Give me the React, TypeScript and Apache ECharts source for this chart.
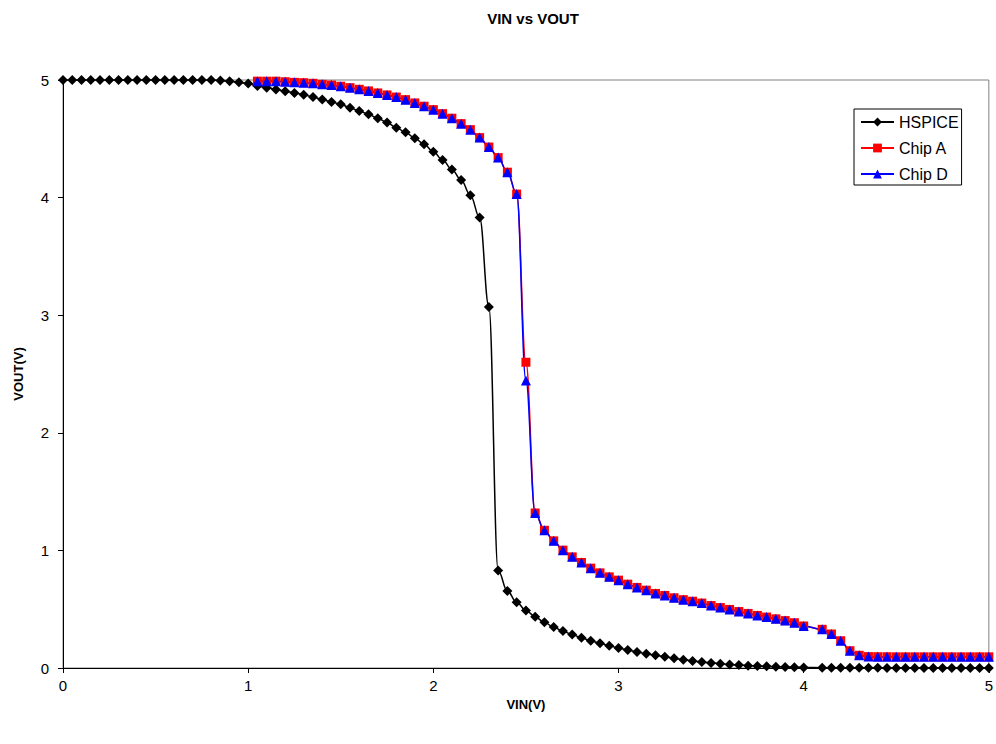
import React, { useEffect, useRef } from "react";
import * as echarts from "echarts";

// VIN sample points (x = 4.05 is absent in the source data)
const vin = [
  0, 0.05, 0.1, 0.15, 0.2, 0.25, 0.3, 0.35, 0.4, 0.45, 0.5, 0.55, 0.6, 0.65, 0.7, 0.75, 0.8,
  0.85, 0.9, 0.95, 1.0,
  1.05, 1.1, 1.15, 1.2, 1.25, 1.3, 1.35, 1.4, 1.45, 1.5, 1.55, 1.6, 1.65, 1.7, 1.75, 1.8, 1.85, 1.9, 1.95, 2.0,
  2.05, 2.1, 2.15, 2.2, 2.25, 2.3, 2.35, 2.4, 2.45, 2.5, 2.55, 2.6, 2.65, 2.7, 2.75, 2.8, 2.85, 2.9, 2.95, 3.0,
  3.05, 3.1, 3.15, 3.2, 3.25, 3.3, 3.35, 3.4, 3.45, 3.5, 3.55, 3.6, 3.65, 3.7, 3.75, 3.8, 3.85, 3.9, 3.95, 4.0,
  4.1, 4.15, 4.2, 4.25, 4.3, 4.35, 4.4, 4.45, 4.5, 4.55, 4.6, 4.65, 4.7, 4.75, 4.8, 4.85, 4.9, 4.95, 5.0,
];

const hspice = [
  5, 5, 5, 5, 5, 5, 5, 5, 5, 5, 5, 5, 5, 5, 5, 5, 5,
  4.995, 4.99, 4.98, 4.97,
  4.95, 4.935, 4.92, 4.905, 4.89, 4.875, 4.855, 4.835, 4.813, 4.793, 4.765, 4.737, 4.708, 4.675, 4.638, 4.595, 4.555, 4.505, 4.454, 4.39,
  4.32, 4.24, 4.15, 4.02, 3.83, 3.07, 0.83, 0.655, 0.56, 0.49, 0.435, 0.388, 0.348, 0.314, 0.285, 0.257, 0.232, 0.21, 0.189, 0.17,
  0.152, 0.136, 0.121, 0.108, 0.095, 0.082, 0.07, 0.06, 0.05, 0.043, 0.036, 0.03, 0.025, 0.02, 0.017, 0.014, 0.011, 0.009, 0.007, 0.005,
  0.003, 0.003, 0.002, 0.002, 0.002, 0.002, 0.002, 0.001, 0.001, 0.001, 0.001, 0.001, 0.001, 0.001, 0.001, 0.001, 0.001, 0.001, 0.001,
];

const chipA = [
  null, null, null, null, null, null, null, null, null, null, null, null, null, null, null, null, null,
  null, null, null, null,
  4.99, 4.99, 4.99, 4.985, 4.98, 4.977, 4.972, 4.963, 4.957, 4.947, 4.935, 4.921, 4.907, 4.89, 4.873, 4.855, 4.833, 4.805, 4.777, 4.748,
  4.714, 4.675, 4.629, 4.578, 4.51, 4.43, 4.34, 4.216, 4.03, 2.6, 1.318, 1.171, 1.081, 1.002, 0.945, 0.897, 0.849, 0.809, 0.775, 0.747,
  0.713, 0.685, 0.662, 0.634, 0.617, 0.597, 0.581, 0.568, 0.552, 0.531, 0.514, 0.498, 0.48, 0.464, 0.447, 0.433, 0.418, 0.403, 0.385, 0.357,
  0.329, 0.289, 0.232, 0.147, 0.108, 0.097, 0.096, 0.096, 0.095, 0.095, 0.095, 0.095, 0.095, 0.095, 0.095, 0.095, 0.095, 0.095, 0.095,
];

const chipD = [
  null, null, null, null, null, null, null, null, null, null, null, null, null, null, null, null, null,
  null, null, null, null,
  4.99, 4.99, 4.99, 4.985, 4.98, 4.977, 4.972, 4.963, 4.957, 4.947, 4.935, 4.921, 4.907, 4.89, 4.873, 4.855, 4.833, 4.805, 4.777, 4.748,
  4.714, 4.675, 4.629, 4.578, 4.51, 4.43, 4.34, 4.216, 4.03, 2.445, 1.318, 1.171, 1.081, 1.002, 0.945, 0.897, 0.849, 0.809, 0.775, 0.747,
  0.713, 0.685, 0.662, 0.634, 0.617, 0.597, 0.581, 0.568, 0.552, 0.531, 0.514, 0.498, 0.48, 0.464, 0.447, 0.433, 0.418, 0.403, 0.385, 0.357,
  0.329, 0.289, 0.232, 0.147, 0.108, 0.097, 0.096, 0.096, 0.095, 0.095, 0.095, 0.095, 0.095, 0.095, 0.095, 0.095, 0.095, 0.095, 0.095,
];

const seriesNames = ["HSPICE", "Chip A", "Chip D"];

const pairs = (ys: (number | null)[]) =>
  vin
    .map((x, i) => [x, ys[i]])
    .filter((p) => p[1] !== null && p[1] !== undefined);

const FONT = "'Liberation Sans', Arial, Helvetica, sans-serif";

export default function App() {
  const ref = useRef<HTMLDivElement>(null);

  useEffect(() => {
    if (!ref.current) return;
    const chart = echarts.init(ref.current, undefined, { renderer: "svg" });
    const axisCommon = {
      type: "value" as const,
      min: 0,
      max: 5,
      interval: 1,
      nameLocation: "middle" as const,
      nameTextStyle: { fontWeight: "bold", fontSize: 13, color: "#000", fontFamily: FONT },
      axisLine: { show: true, onZero: false, lineStyle: { color: "#000", width: 1 } },
      axisTick: { show: true, inside: false, length: 5, lineStyle: { color: "#000", width: 1 } },
      splitLine: { show: false },
    };
    chart.setOption({
      animation: false,
      backgroundColor: "#ffffff",
      textStyle: { fontFamily: FONT },
      title: {
        text: "VIN vs VOUT",
        left: 528,
        top: 6,
        textAlign: "center",
        textStyle: { fontSize: 15, fontWeight: "bold", color: "#000", fontFamily: FONT },
      },
      grid: {
        left: 63,
        top: 80,
        right: 6,
        bottom: 76,
        show: true,
        borderColor: "#808080",
        borderWidth: 1,
        backgroundColor: "transparent",
      },
      legend: {
        orient: "vertical",
        left: 854,
        top: 109,
        data: seriesNames,
        borderColor: "#000",
        borderWidth: 1,
        backgroundColor: "#fff",
        padding: [5, 3, 3, 6],
        itemWidth: 33,
        itemHeight: 11,
        itemGap: 10,
        textStyle: { fontSize: 16, color: "#000", fontFamily: FONT },
      },
      xAxis: {
        ...axisCommon,
        name: "VIN(V)",
        nameGap: 20,
        axisLabel: { fontSize: 15, color: "#000", margin: 10, fontFamily: FONT },
      },
      yAxis: {
        ...axisCommon,
        name: "VOUT(V)",
        nameGap: 38,
        axisLabel: { fontSize: 15, color: "#000", margin: 14, fontFamily: FONT },
      },
      series: [
        {
          name: seriesNames[0],
          type: "line",
          data: pairs(hspice),
          symbol: "diamond",
          symbolSize: 10,
          smooth: 0.4,
          smoothMonotone: "x",
          itemStyle: { color: "#000000" },
          lineStyle: { color: "#000000", width: 1.5 },
        },
        {
          name: seriesNames[1],
          type: "line",
          data: pairs(chipA),
          symbol: "rect",
          symbolSize: 9,
          smooth: 0.4,
          smoothMonotone: "x",
          itemStyle: { color: "#FF0000" },
          lineStyle: { color: "#FF0000", width: 1.5 },
        },
        {
          name: seriesNames[2],
          type: "line",
          data: pairs(chipD),
          symbol: "triangle",
          symbolSize: 10,
          smooth: 0.4,
          smoothMonotone: "x",
          itemStyle: { color: "#0000FF" },
          lineStyle: { color: "#0000FF", width: 1.5 },
        },
      ],
    });
    return () => chart.dispose();
  }, []);

  return (
    <div
      ref={ref}
      style={{ position: "fixed", left: 0, top: 0, width: 996, height: 744, background: "#fff" }}
    />
  );
}
